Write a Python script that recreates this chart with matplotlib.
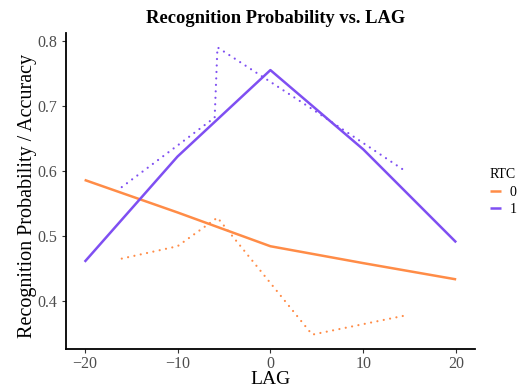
import matplotlib
matplotlib.use("Agg")
import matplotlib.pyplot as plt

# model curves (solid) at the nominal lags
lag_model = [-20, -10, 0, 10, 20]
rtc0_model = [0.586, 0.536, 0.484, 0.458, 0.433]
rtc1_model = [0.460, 0.622, 0.755, 0.633, 0.490]

# observed accuracy (dotted)
lag_obs = [-16, -10, -6, -5.7, 4.5, 14.7]
rtc0_obs = [0.465, 0.484, 0.525, 0.528, 0.348, 0.378]
rtc1_obs = [0.575, 0.639, 0.682, 0.790, 0.695, 0.598]

rtc_labels = ["0", "1"]
colors = ["#FF8C47", "#7F4FF2"]

plt.rcParams["font.family"] = ["Liberation Serif", "DejaVu Serif"]

fig = plt.figure(figsize=(5.2, 3.88), dpi=100)
ax = fig.add_axes([0.127, 0.1005, 0.786, 0.8145])

handles = []
for lab, col, ym, yo in zip(rtc_labels, colors, [rtc0_model, rtc1_model], [rtc0_obs, rtc1_obs]):
    h, = ax.plot(lag_model, ym, color=col, lw=1.8, solid_capstyle="butt")
    ax.plot(lag_obs, yo, color=col, lw=1.6, linestyle=(0, (0.01, 2.9)),
            dash_capstyle="round")
    handles.append(h)

# ggplot-style 5% expansion
ally = rtc0_model + rtc1_model + rtc0_obs + rtc1_obs
ylo, yhi = min(ally), max(ally)
pad = (yhi - ylo) * 0.05
ax.set_ylim(ylo - pad, yhi + pad)
ax.set_xlim(-22, 22)

ax.set_xticks([-20, -10, 0, 10, 20])
ax.set_yticks([0.4, 0.5, 0.6, 0.7, 0.8])
ax.set_yticklabels(["0.4", "0.5", "0.6", "0.7", "0.8"])
ax.tick_params(labelsize=11.5, labelcolor="#4D4D4D", color="#333333", length=3, width=0.8)
ax.tick_params(axis="x", pad=2)

for s in ["top", "right"]:
    ax.spines[s].set_visible(False)
for s in ["left", "bottom"]:
    ax.spines[s].set_linewidth(1.3)

ax.set_xlabel("LAG", fontsize=14, labelpad=-1)
ax.set_ylabel("Recognition Probability / Accuracy", fontsize=14.5)
ax.yaxis.set_label_coords(-0.072, 0.485)
ax.set_title("Recognition Probability vs. LAG", fontsize=13.3, fontweight="bold",
             pad=7, x=0.512)

fig.legend(handles, rtc_labels, title="RTC", loc="center left",
           bbox_to_anchor=(0.942, 0.505), frameon=False, fontsize=10,
           title_fontsize=10, handlelength=0.8, handletextpad=0.6,
           labelspacing=0.3, borderaxespad=0, borderpad=0)

fig.savefig("out.png", dpi=100)
